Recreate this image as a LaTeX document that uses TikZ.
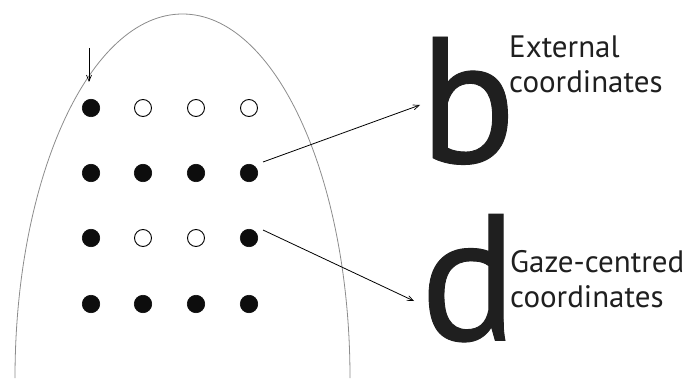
\documentclass[tikz,border=0pt]{standalone}
\usepackage{fontspec}
\setmainfont{PT Sans}
\newfontfamily\bigletfont{PT Sans}[FakeBold=0.5]
\usetikzlibrary{arrows.meta,calc}
\tikzset{
  full/.style={circle,fill=black!95,draw=black!95,line width=0.6pt,minimum size=17.5pt,inner sep=0pt},
  hollow/.style={circle,fill=white,draw=black,line width=0.9pt,minimum size=17pt,inner sep=0pt},
  conn/.style={line width=0.8pt,-{Straight Barb[length=6pt,width=5pt,line width=0.7pt]}},
  biglet/.style={inner sep=0pt,anchor=base west,text=black!88,font=\bigletfont\fontsize{180}{180}\selectfont},
  lbl/.style={inner sep=0pt,anchor=base west,align=left,text=black!88,font=\fontsize{31}{35}\selectfont}
}
\begin{document}
\begin{tikzpicture}[x=1pt,y=-1pt]
\useasboundingbox (0,0) rectangle (693,382);
% outline
\draw[black!45,line width=0.8pt] (15,378) arc[start angle=180,end angle=360,x radius=167.5,y radius=364];
% dots
\node[full]   (d11) at (91,108) {};
\node[hollow] (d12) at (143,108) {};
\node[hollow] (d13) at (196,108) {};
\node[hollow] (d14) at (249,108) {};
\node[full] (d21) at (91,173) {};
\node[full] (d22) at (143,173) {};
\node[full] (d23) at (196,173) {};
\node[full] (d24) at (249,173) {};
\node[full]   (d31) at (91,238) {};
\node[hollow] (d32) at (143,238) {};
\node[hollow] (d33) at (196,238) {};
\node[full]   (d34) at (249,238) {};
\node[full] (d41) at (91,304) {};
\node[full] (d42) at (143,304) {};
\node[full] (d43) at (196,304) {};
\node[full] (d44) at (249,304) {};
% letters and labels
\node[biglet] (b) at (419,163) {b};
\node[biglet] (d) at (420,340) {d};
\node[lbl] (ext) at (509,93) {External\\coordinates};
\node[lbl] (gaze) at (510,307) {Gaze-centred\\coordinates};
% arrows
\coordinate (top) at (89,48);
\coordinate (tip) at (89,82);
\draw[conn] (top) -- (tip);
\coordinate (s1) at ($(d24)+(14,-11)$);
\coordinate (e1) at (420,105);
\coordinate (s2) at ($(d34)+(14,-8)$);
\coordinate (e2) at (414,301);
\draw[conn] (s1) -- (e1);
\draw[conn] (s2) -- (e2);
\end{tikzpicture}
\end{document}
